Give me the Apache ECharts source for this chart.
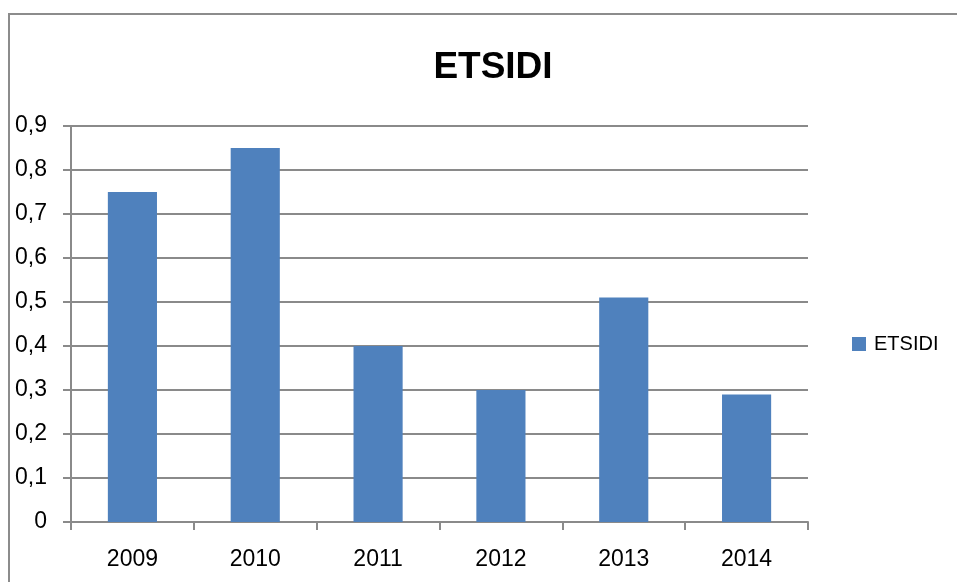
<!DOCTYPE html>
<html>
<head>
<meta charset="utf-8">
<script src="https://cdn.jsdelivr.net/npm/echarts@6/dist/echarts.min.js"></script>
<style>html,body{margin:0;padding:0;background:#fff}#c{width:957px;height:582px}</style>
</head>
<body>
<div id="c"></div>
<script>
const categories = ['2009', '2010', '2011', '2012', '2013', '2014'];
const values = [0.75, 0.85, 0.40, 0.30, 0.51, 0.29];
const seriesName = 'ETSIDI';
const titleText = 'ETSIDI';

const chart = echarts.init(document.getElementById('c'));
const axisColor = '#8a8a8a';
chart.setOption({
  animation: false,
  backgroundColor: '#fff',
  title: {
    text: titleText, left: 488, top: 44, textAlign: 'center',
    textStyle: { fontFamily: 'Liberation Sans', fontWeight: 'bold', fontSize: 37, color: '#000' }
  },
  legend: {
    data: [seriesName], orient: 'vertical', left: 847, top: 329,
    itemWidth: 14, itemHeight: 14, itemGap: 8, icon: 'rect',
    textStyle: { fontFamily: 'Liberation Sans', fontSize: 20, color: '#000', padding: [0, 0, 0, 3] }
  },
  grid: { left: 71, right: 149, top: 126, bottom: 60, containLabel: false },
  xAxis: {
    type: 'category', data: categories, boundaryGap: true,
    axisLine: { show: true, lineStyle: { color: axisColor, width: 2 } },
    axisTick: { show: true, length: 8, alignWithLabel: false, lineStyle: { color: axisColor, width: 2 } },
    axisLabel: { margin: 26, fontFamily: 'Liberation Sans', fontSize: 23, color: '#000' },
    splitLine: { show: false }
  },
  yAxis: {
    type: 'value', min: 0, max: 0.9, interval: 0.1,
    axisLine: { show: true, lineStyle: { color: axisColor, width: 2 } },
    axisTick: { show: true, length: 8, lineStyle: { color: axisColor, width: 2 } },
    axisLabel: {
      margin: 24, fontFamily: 'Liberation Sans', fontSize: 23, color: '#000',
      formatter: v => (Math.round(v * 10) / 10).toString().replace('.', ',')
    },
    splitLine: { show: true, lineStyle: { color: axisColor, width: 2 } }
  },
  series: [{
    name: seriesName, type: 'bar', data: values, barWidth: '40%',
    itemStyle: { color: '#4F81BD' }
  }],
  graphic: [{
    type: 'rect', silent: true, z: 100,
    shape: { x: 9, y: 14, width: 1200, height: 1200 },
    style: { fill: 'none', stroke: '#8c8c8c', lineWidth: 2 }
  }]
});
</script>
</body>
</html>
